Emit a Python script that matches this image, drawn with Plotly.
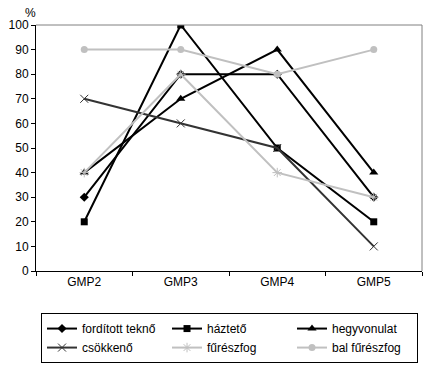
import plotly.graph_objects as go

categories = ["GMP2", "GMP3", "GMP4", "GMP5"]
forditott_tekno = [30, 80, 80, 30]
haztető = [20, 100, 50, 20]
hegyvonulat = [40, 70, 90, 40]
csokkeno = [70, 60, 50, 10]
fureszfog = [40, 80, 40, 30]
bal_fureszfog = [90, 90, 80, 90]
y_ticks = list(range(0, 101, 10))

series = [
    ("fordított teknő", forditott_tekno, "#000000", "diamond", 7, None),
    ("háztető", haztető, "#000000", "square", 7, None),
    ("hegyvonulat", hegyvonulat, "#000000", "triangle-up", 8, None),
    ("csökkenő", csokkeno, "#333333", "x-thin", 8, 1),
    ("fűrészfog", fureszfog, "#c0c0c0", "asterisk", 8, 1),
    ("bal fűrészfog", bal_fureszfog, "#c0c0c0", "circle", 7, None),
]

fig = go.Figure()
for name, vals, col, sym, size, mlw in series:
    marker = dict(symbol=sym, size=size, color=col)
    if mlw:
        marker["line"] = dict(color=col, width=mlw)
    fig.add_trace(go.Scatter(
        x=categories, y=vals, name=name, mode="lines+markers",
        line=dict(color=col, width=2), marker=marker,
    ))

fig.update_layout(
    width=428, height=371,
    margin=dict(l=36, r=6, t=25, b=100, autoexpand=False),
    paper_bgcolor="white", plot_bgcolor="white",
    font=dict(family="Liberation Sans, Arial, sans-serif", size=12, color="black"),
    showlegend=True,
    legend=dict(
        orientation="h", x=0.013, y=-0.171, xanchor="left", yanchor="top",
        bordercolor="black", borderwidth=1, bgcolor="white",
        entrywidth=80, entrywidthmode="pixels",
        font=dict(size=12), itemwidth=30,
        tracegroupgap=0, traceorder="normal",
    ),
    xaxis=dict(
        type="category", range=[-0.5, 3.5], tickson="boundaries",
        ticks="outside", ticklen=4, tickcolor="black",
        showline=True, linecolor="black", linewidth=1,
        showgrid=False, zeroline=False, fixedrange=True,
    ),
    yaxis=dict(
        range=[0, 100], tickvals=y_ticks, ticks="outside", ticklen=4,
        tickcolor="black", showline=True, linecolor="black", linewidth=1,
        showgrid=False, zeroline=False,
    ),
    shapes=[
        dict(type="line", xref="paper", yref="paper", x0=0, x1=1, y0=1, y1=1,
             line=dict(color="#808080", width=1)),
        dict(type="line", xref="paper", yref="paper", x0=1, x1=1, y0=0, y1=1,
             line=dict(color="#808080", width=1)),
    ],
    annotations=[
        dict(text="%", xref="paper", yref="paper", x=-0.015, y=1.05,
             showarrow=False, xanchor="center", yanchor="middle",
             font=dict(size=12)),
    ],
)

fig.write_html(
    "out.html",
    config={"displayModeBar": False},
    post_script="document.body.style.margin='0';document.body.style.overflow='hidden';",
)
